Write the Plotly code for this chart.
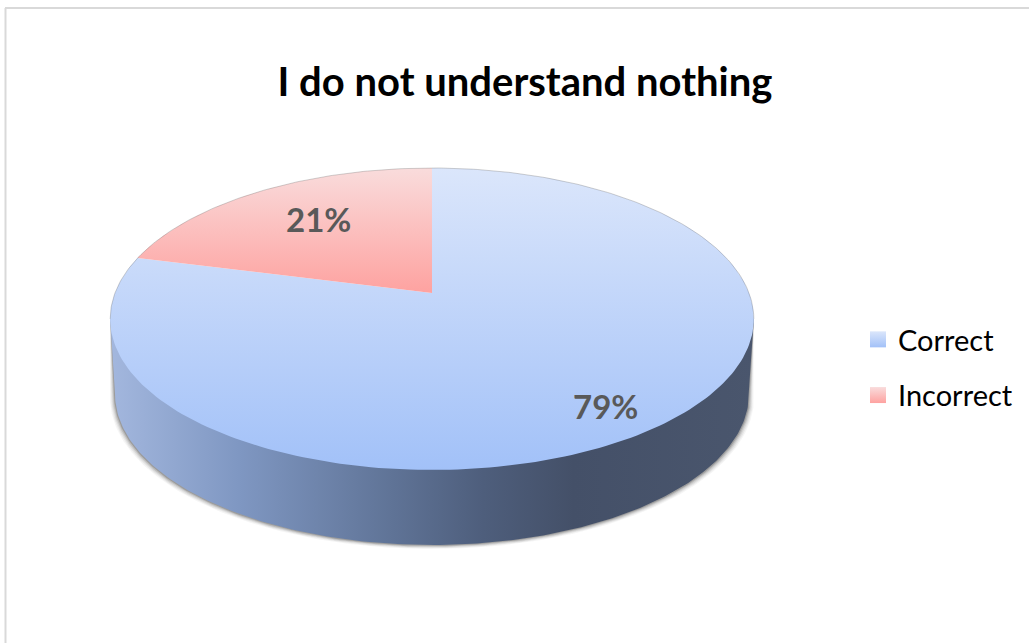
import numpy as np
import plotly.graph_objects as go

# ---- data ----
categories = ["Correct", "Incorrect"]
values = [79, 21]
title_text = "I do not understand nothing"

# ---- look ----
W, H = 1029, 643
CX, CY = 432, 319      # centre of the projected disc outline, page pixels
A, B, C, K = 317, 151, 26, 0.172   # perspective of the tilted disc
DEPTH = 75
RIM = 0.985
FONT = "Lato"
TOP_GRADS = {
    "Correct": ["#dbe6fb", "#a2c1f8"],
    "Incorrect": ["#f9dcdc", "#fea2a0"],
}
SIDE_SCALE = [[0, "#a3b7de"], [0.2, "#7f97c2"], [0.44, "#5f7396"], [0.58, "#4e5e7c"], [0.72, "#445068"], [1, "#4a566d"]]


def project(theta):
    """Disc angle (clockwise from top, radians) -> page pixels."""
    u, v = np.sin(theta), np.cos(theta)
    w = 1 + K * v
    return CX + A * u / w, CY - (B * v + C) / w


total = sum(values)
# Correct runs clockwise from the top, Incorrect finishes the turn back at the top
stop = 2 * np.pi * values[0] / total
spans = {"Correct": (0.0, stop), "Incorrect": (stop, 2 * np.pi)}
apex = CX, CY - C

fig = go.Figure()

# lower half of the disc, between its widest points
t_side = np.arccos(-K)
t_low = np.linspace(t_side, 2 * np.pi - t_side, 200)
tx, ty = project(t_low)


def wall(scale, dy):
    xs = CX + (tx - CX) * scale
    ys = ty + dy
    return np.concatenate([[tx[0]], xs, [tx[-1]]]), np.concatenate([[ty[0]], ys, [ty[-1]]])


# soft shadow below the side wall
for grow, alpha in [(5, 0.05), (4, 0.07), (3, 0.10), (2, 0.16), (1, 0.25)]:
    xs, ys = wall(RIM + grow / 322, DEPTH + grow * 0.8)
    fig.add_trace(go.Scatter(x=xs, y=ys, mode="lines", fill="toself", hoverinfo="skip",
                             line=dict(width=0), fillcolor=f"rgba(60,60,60,{alpha})", showlegend=False))

# side wall
xs, ys = wall(RIM, DEPTH)
fig.add_trace(go.Scatter(
    x=xs, y=ys, mode="lines", fill="toself", line=dict(width=0), hoverinfo="skip", showlegend=False,
    fillgradient=dict(type="horizontal", colorscale=SIDE_SCALE, start=float(xs.min()), stop=float(xs.max())),
))

# top faces
for name in categories:
    t0, t1 = spans[name]
    t = np.linspace(t0, t1, 240)
    x, y = project(t)
    xs = np.concatenate([[apex[0]], x, [apex[0]]])
    ys = np.concatenate([[apex[1]], y, [apex[1]]])
    lo, hi = TOP_GRADS[name]
    fig.add_trace(go.Scatter(
        x=xs, y=ys, mode="lines", fill="toself", line=dict(width=0), name=name, hoverinfo="skip", showlegend=False,
        fillgradient=dict(type="vertical", colorscale=[[0, lo], [1, hi]],
                          start=float(ys.min()), stop=float(ys.max())),
    ))

# hairline along the far edge of the disc
t_far = np.linspace(-t_side, t_side, 240)
x, y = project(t_far)
fig.add_trace(go.Scatter(x=x, y=y, mode="lines", hoverinfo="skip", showlegend=False,
                         line=dict(width=0.6, color="rgba(80,80,80,0.45)")))

# legend entries
for name in categories:
    lo, hi = TOP_GRADS[name]
    fig.add_trace(go.Scatter(
        x=[None], y=[None], mode="markers", name=name, legendgroup=name,
        marker=dict(symbol="square", size=18, color=lo, line=dict(width=0),
                    gradient=dict(type="vertical", color=hi)),
    ))

LABEL_POS = {"Correct": (605, 406), "Incorrect": (318, 219)}
annotations = [
    dict(x=LABEL_POS[n][0], y=LABEL_POS[n][1], xref="x", yref="y", text=f"{v}%", showarrow=False,
         xanchor="center", yanchor="middle", font=dict(family=FONT, size=33, color="#595959", weight="bold"))
    for n, v in zip(categories, values)
]

fig.update_layout(
    width=W, height=H, margin=dict(l=0, r=0, t=0, b=0),
    paper_bgcolor="white", plot_bgcolor="white",
    xaxis=dict(range=[0, W], visible=False, fixedrange=True),
    yaxis=dict(range=[H, 0], visible=False, fixedrange=True),
    title=dict(text=title_text, x=525 / W, y=1 - 82 / H, xanchor="center", yanchor="middle",
               font=dict(family=FONT, size=40, color="black", weight="bold")),
    legend=dict(x=858 / W, y=1 - 314 / H, xanchor="left", yanchor="top", tracegroupgap=15,
                bgcolor="rgba(0,0,0,0)", font=dict(family=FONT, size=29, color="black"), itemwidth=30),
    annotations=annotations,
    shapes=[
        dict(type="line", xref="x", yref="y", x0=5.5, x1=5.5, y0=8, y1=H, line=dict(color="#d9d9d9", width=2)),
        dict(type="line", xref="x", yref="y", x0=5, x1=W, y0=8, y1=8, line=dict(color="#d9d9d9", width=2)),
    ],
)
fig.write_html("out.html", config=dict(displayModeBar=False),
               post_script="document.body.style.margin='0';document.body.style.overflow='hidden';")
